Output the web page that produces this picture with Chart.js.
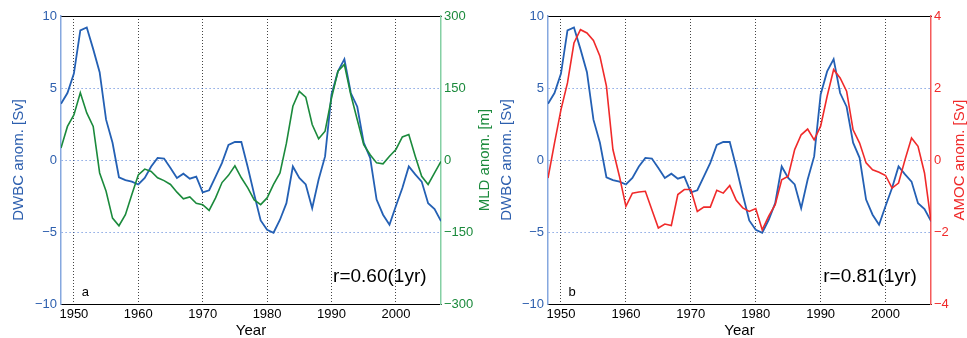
<!DOCTYPE html>
<html>
<head>
<meta charset="UTF-8">
<title>DWBC vs MLD and AMOC anomalies</title>
<script src="https://cdn.jsdelivr.net/npm/chart.js"></script>
<style>
  body { margin: 0; background: #fff; }
  #wrap { position: relative; width: 967px; height: 338px; }
  canvas { position: absolute; top: 0; }
</style>
</head>
<body>
<div id="wrap">
  <canvas id="chartA" width="495" height="338" style="left:0"></canvas>
  <canvas id="chartB" width="472" height="338" style="left:495px"></canvas>
</div>
<script>
// values, one per year
const years = [1948, 1949, 1950, 1951, 1952, 1953, 1954, 1955, 1956, 1957,
               1958, 1959, 1960, 1961, 1962, 1963, 1964, 1965, 1966, 1967,
               1968, 1969, 1970, 1971, 1972, 1973, 1974, 1975, 1976, 1977,
               1978, 1979, 1980, 1981, 1982, 1983, 1984, 1985, 1986, 1987,
               1988, 1989, 1990, 1991, 1992, 1993, 1994, 1995, 1996, 1997,
               1998, 1999, 2000, 2001, 2002, 2003, 2004, 2005, 2006, 2007];
// DWBC anomaly [Sv]
const dwbc = [3.9, 4.65, 6.0, 9.0, 9.2, 7.7, 6.1, 2.8, 1.2, -1.2,
              -1.4, -1.5, -1.7, -1.25, -0.45, 0.15, 0.1, -0.55, -1.25, -0.95,
              -1.3, -1.15, -2.25, -2.1, -1.15, -0.2, 1.05, 1.25, 1.25, -0.5,
              -2.4, -4.2, -4.85, -5.05, -4.15, -3.0, -0.45, -1.25, -1.7, -3.35,
              -1.35, 0.25, 4.55, 6.15, 7.0, 4.65, 3.7, 1.2, 0.15, -2.75,
              -3.8, -4.5, -3.2, -1.95, -0.45, -1.0, -1.5, -3.0, -3.4, -4.25];
// MLD anomaly [m]
const mld = [25, 70, 94, 140, 98, 70, -27, -65, -121, -137,
             -114, -72, -31, -19, -24, -37, -43, -51, -67, -81,
             -77, -90, -93, -105, -79, -47, -32, -12, -37, -58,
             -83, -93, -79, -51, -27, 35, 112, 143, 131, 74,
             44, 60, 129, 185, 199, 136, 84, 32, 11, -6,
             -8, 8, 22, 48, 53, 8, -34, -51, -27, -3];
// AMOC anomaly [Sv]
const amoc = [-0.5, 0.47, 1.4, 2.14, 3.25, 3.62, 3.53, 3.32, 2.88, 2.05,
              0.29, -0.45, -1.29, -0.92, -0.89, -0.87, -1.38, -1.89, -1.78, -1.82,
              -0.96, -0.82, -0.82, -1.43, -1.31, -1.31, -0.84, -0.92, -0.71, -1.12,
              -1.33, -1.43, -1.35, -1.94, -1.56, -1.24, -0.55, -0.45, 0.29, 0.7,
              0.86, 0.56, 0.94, 1.77, 2.51, 2.28, 1.91, 0.84, 0.47, -0.08,
              -0.27, -0.34, -0.43, -0.78, -0.64, 0.01, 0.61, 0.38, -0.36, -1.7];

const yearTicks = [1950, 1960, 1970, 1980, 1990, 2000];
const dwbcTicks = [-10, -5, 0, 5, 10];
const mldTicks = [-300, -150, 0, 150, 300];
const amocTicks = [-4, -2, 0, 2, 4];

const BLUE = '#2460b4', BLUE_AXIS = '#86a8df', BLUE_TEXT = '#2d5fae';
const GREEN = '#1b8a3c', GREEN_AXIS = '#85d0a4';
const RED = '#f02a2a', RED_AXIS = '#f55a5a';
const FONT = 'Liberation Sans';

const minus = v => String(v).replace('-', '\u2212');
const fixTicks = list => scale => { scale.ticks = list.map(v => ({ value: v })); };

// right-hand axis title (reads bottom-to-top like matlab) and the in-plot notes
const extras = {
  id: 'extras',
  afterDraw(chart, args, opts) {
    const ctx = chart.ctx;
    const area = chart.chartArea;
    const r = chart.scales.y1;
    ctx.save();
    ctx.translate(r.right - opts.rightOffset, (area.top + area.bottom) / 2);
    ctx.rotate(-Math.PI / 2);
    ctx.font = '15px "' + FONT + '"';
    ctx.fillStyle = opts.rightColor;
    ctx.textAlign = 'center';
    ctx.textBaseline = 'middle';
    ctx.fillText(opts.rightTitle, 0, 0);
    ctx.restore();

    ctx.save();
    ctx.fillStyle = '#000';
    ctx.textAlign = 'center';
    ctx.textBaseline = 'middle';
    opts.notes.forEach(n => {
      ctx.font = n.size + 'px "' + FONT + '"';
      ctx.fillText(n.text, chart.scales.x.getPixelForValue(n.x), chart.scales.y.getPixelForValue(n.y));
    });
    ctx.restore();
  }
};

function makePanel(id, opt) {
  const ctx = document.getElementById(id).getContext('2d');
  return new Chart(ctx, {
    type: 'line',
    data: {
      datasets: [
        { label: 'DWBC', data: years.map((x, i) => ({ x, y: dwbc[i] })), yAxisID: 'y',
          borderColor: BLUE, borderWidth: 1.8, pointRadius: 0, tension: 0, order: 2 },
        { label: opt.label, data: years.map((x, i) => ({ x, y: opt.series[i] })), yAxisID: 'y1',
          borderColor: opt.color, borderWidth: 1.6, pointRadius: 0, tension: 0, order: 1 }
      ]
    },
    options: {
      responsive: false,
      animation: false,
      layout: { padding: 0 },
      plugins: {
        legend: { display: false },
        tooltip: { enabled: false },
        extras: {
          rightTitle: opt.rightTitle, rightColor: opt.color, rightOffset: opt.rightOffset,
          notes: opt.notes
        }
      },
      scales: {
        x: {
          type: 'linear', position: 'bottom', min: 1948, max: 2007,
          afterBuildTicks: fixTicks(yearTicks),
          afterFit: s => { s.height = 34; },
          ticks: { color: '#000', padding: 3, font: { family: FONT, size: 13 }, callback: v => String(v) },
          grid: { color: '#444', lineWidth: 1, drawTicks: false },
          border: { color: '#000', width: 1, dash: [1, 2] },
          title: { display: true, text: 'Year', color: '#000', padding: { top: 0, bottom: 0 },
                   font: { family: FONT, size: 15, lineHeight: 1 } }
        },
        xTop: {
          type: 'linear', position: 'top', min: 1948, max: 2007,
          afterFit: s => { s.height = 16; },
          ticks: { display: false },
          grid: { drawOnChartArea: false, drawTicks: false },
          border: { color: '#000', width: 1 }
        },
        y: {
          type: 'linear', position: 'left', min: -10, max: 10,
          afterBuildTicks: fixTicks(dwbcTicks),
          afterFit: s => { s.width = opt.leftWidth; },
          ticks: { color: BLUE_TEXT, padding: 4, font: { family: FONT, size: 13 }, callback: minus },
          grid: { drawTicks: false,
                  color: c => (c.tick && Math.abs(c.tick.value) === 10) ? 'rgba(0,0,0,0)' : 'rgba(80,125,215,0.85)' },
          border: { color: BLUE_AXIS, width: 1.5, dash: [1.2, 2.8] },
          title: { display: true, text: 'DWBC anom. [Sv]', color: BLUE_TEXT,
                   padding: { top: opt.leftTitlePad, bottom: 0 }, font: { family: FONT, size: 15 } }
        },
        y1: {
          type: 'linear', position: 'right', min: opt.min, max: opt.max,
          afterBuildTicks: fixTicks(opt.ticks),
          afterFit: s => { s.width = opt.rightWidth; },
          ticks: { color: opt.color, padding: 3, font: { family: FONT, size: 13 }, callback: minus },
          grid: { drawOnChartArea: false, drawTicks: false },
          border: { color: opt.axisColor, width: 1.5 }
        }
      }
    },
    plugins: [extras]
  });
}

makePanel('chartA', {
  label: 'MLD', series: mld, color: GREEN, axisColor: GREEN_AXIS,
  min: -300, max: 300, ticks: mldTicks,
  leftWidth: 61, rightWidth: 54, leftTitlePad: 10, rightOffset: 10,
  rightTitle: 'MLD anom. [m]',
  notes: [{ text: 'a', x: 1951.8, y: -9.2, size: 13 }, { text: 'r=0.60(1yr)', x: 1997.5, y: -8.1, size: 19 }]
});

makePanel('chartB', {
  label: 'AMOC', series: amoc, color: RED, axisColor: RED_AXIS,
  min: -4, max: 4, ticks: amocTicks,
  leftWidth: 53, rightWidth: 36, leftTitlePad: 3, rightOffset: 7,
  rightTitle: 'AMOC anom. [Sv]',
  notes: [{ text: 'b', x: 1951.7, y: -9.2, size: 13 }, { text: 'r=0.81(1yr)', x: 1997.6, y: -8.1, size: 19 }]
});
</script>
</body>
</html>
